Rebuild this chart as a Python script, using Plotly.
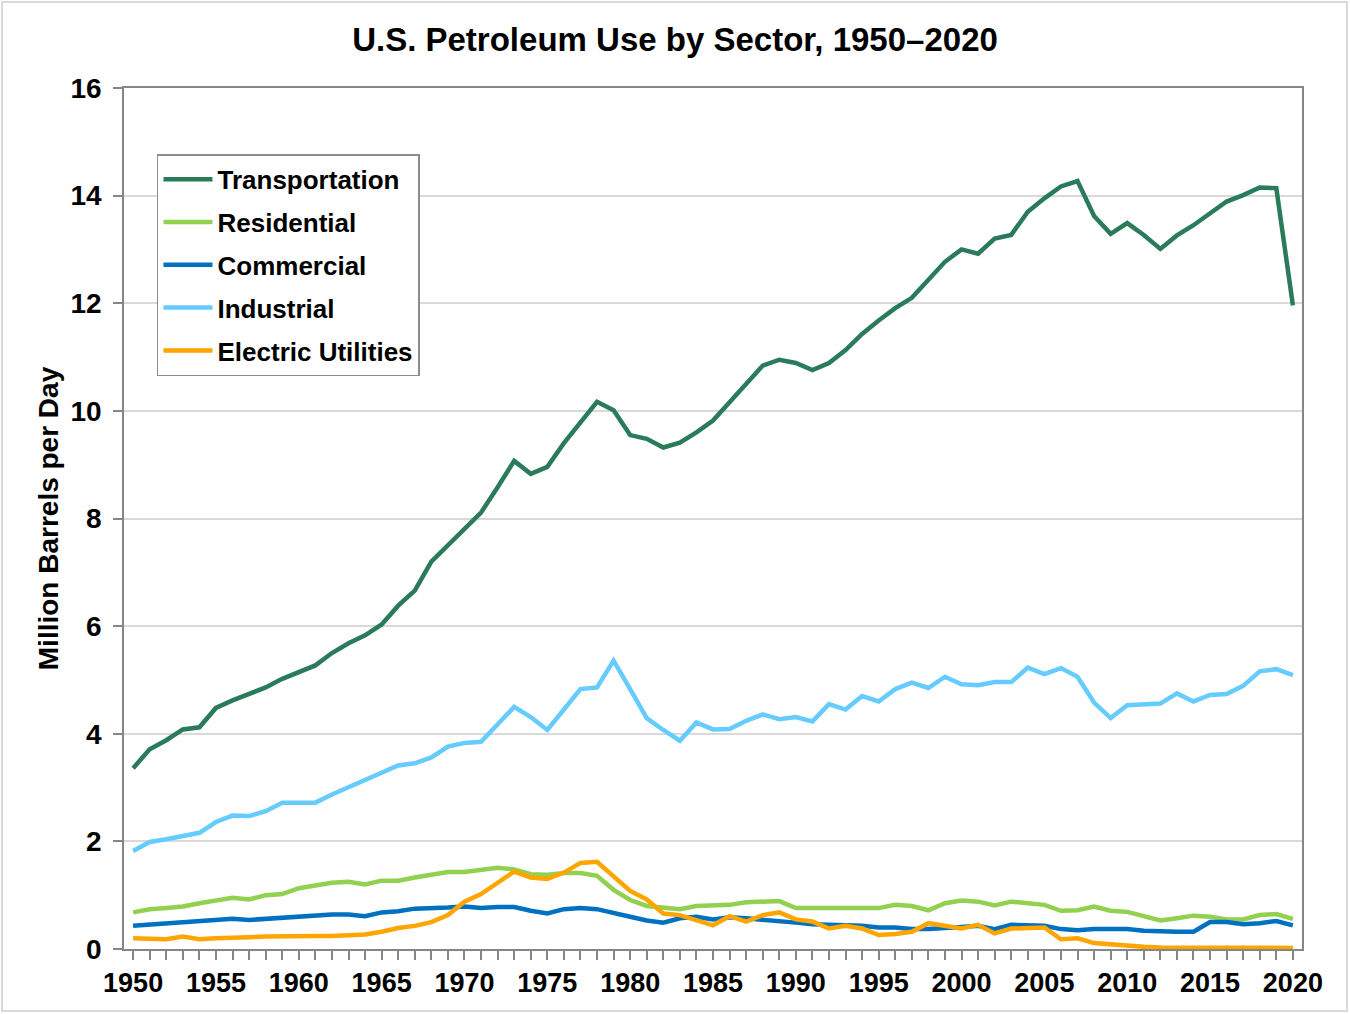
import plotly.graph_objects as go

# Anos (eixo x)
anos = list(range(1950, 2021))

transporte = [3.36, 3.71, 3.88, 4.08, 4.12, 4.48, 4.62, 4.73, 4.86, 5.02,
              5.14, 5.27, 5.50, 5.68, 5.83, 6.03, 6.38, 6.66, 7.20, 7.50,
              7.79, 8.11, 8.58, 9.07, 8.83, 8.96, 9.40, 9.77, 10.17, 10.01,
              9.55, 9.48, 9.32, 9.41, 9.60, 9.82, 10.17, 10.50, 10.84, 10.95,
              10.89, 10.76, 10.89, 11.13, 11.43, 11.68, 11.91, 12.10, 12.44, 12.77,
              13.00, 12.92, 13.20, 13.27, 13.70, 13.95, 14.17, 14.27, 13.62, 13.29,
              13.49, 13.27, 13.01, 13.26, 13.45, 13.66, 13.89, 14.01, 14.15, 14.14,
              11.96]

residencial = [0.68, 0.74, 0.76, 0.79, 0.85, 0.91, 0.95, 0.92, 1.00, 1.02,
               1.13, 1.18, 1.23, 1.25, 1.20, 1.27, 1.27, 1.33, 1.39, 1.43,
               1.43, 1.46, 1.51, 1.48, 1.39, 1.38, 1.41, 1.41, 1.36, 1.10,
               0.91, 0.80, 0.76, 0.74, 0.80, 0.82, 0.82, 0.87, 0.89, 0.89,
               0.76, 0.76, 0.76, 0.78, 0.76, 0.76, 0.82, 0.80, 0.72, 0.85,
               0.90, 0.88, 0.81, 0.88, 0.85, 0.82, 0.71, 0.72, 0.79, 0.71,
               0.69, 0.61, 0.53, 0.57, 0.62, 0.60, 0.55, 0.55, 0.63, 0.65,
               0.56]

comercial = [0.43, 0.45, 0.47, 0.48, 0.50, 0.54, 0.56, 0.54, 0.56, 0.60,
             0.60, 0.62, 0.64, 0.64, 0.61, 0.68, 0.70, 0.75, 0.75, 0.77,
             0.79, 0.76, 0.78, 0.78, 0.71, 0.66, 0.74, 0.76, 0.74, 0.66,
             0.60, 0.53, 0.49, 0.57, 0.60, 0.55, 0.59, 0.57, 0.55, 0.53,
             0.49, 0.46, 0.44, 0.44, 0.43, 0.40, 0.40, 0.37, 0.37, 0.38,
             0.41, 0.43, 0.37, 0.45, 0.44, 0.43, 0.37, 0.35, 0.37, 0.37,
             0.37, 0.34, 0.32, 0.32, 0.32, 0.50, 0.50, 0.46, 0.48, 0.52,
             0.44]

industrial = [1.82, 1.99, 2.04, 2.11, 2.16, 2.36, 2.48, 2.47, 2.56, 2.72,
              2.72, 2.72, 2.87, 3.00, 3.15, 3.28, 3.41, 3.45, 3.56, 3.76,
              3.83, 3.85, 4.19, 4.50, 4.31, 4.07, 4.45, 4.83, 4.86, 5.36,
              4.83, 4.29, 4.07, 3.87, 4.21, 4.08, 4.09, 4.24, 4.36, 4.27,
              4.31, 4.23, 4.55, 4.45, 4.70, 4.60, 4.83, 4.95, 4.85, 5.06,
              4.92, 4.90, 4.96, 4.96, 5.23, 5.11, 5.22, 5.06, 4.58, 4.29,
              4.53, 4.55, 4.56, 4.75, 4.60, 4.72, 4.74, 4.89, 5.16, 5.20,
              5.09]

eletrica = [0.20, 0.18, 0.18, 0.23, 0.18, 0.20, 0.20, 0.22, 0.23, 0.24,
            0.24, 0.24, 0.24, 0.26, 0.27, 0.32, 0.39, 0.43, 0.50, 0.63,
            0.88, 1.02, 1.23, 1.44, 1.33, 1.30, 1.42, 1.60, 1.62, 1.34,
            1.08, 0.92, 0.66, 0.63, 0.54, 0.44, 0.61, 0.51, 0.63, 0.68,
            0.55, 0.51, 0.38, 0.43, 0.38, 0.26, 0.28, 0.32, 0.48, 0.43,
            0.38, 0.45, 0.29, 0.38, 0.40, 0.40, 0.18, 0.20, 0.11, 0.08,
            0.06, 0.04, 0.03, 0.03, 0.03, 0.03, 0.03, 0.03, 0.03, 0.02,
            0.02]

setores = ['Transportation', 'Residential', 'Commercial', 'Industrial', 'Electric Utilities']
cores = ['#2A7B59', '#92D050', '#0070C0', '#66CCFF', '#FFA500']
valores = [transporte, residencial, comercial, industrial, eletrica]

fonte = 'Arial, Liberation Sans, sans-serif'

fig = go.Figure()
for nome, cor, y in zip(setores, cores, valores):
    fig.add_trace(go.Scatter(
        x=anos, y=y, name=nome, mode='lines',
        line=dict(color=cor, width=4.5),
        legendgroup=nome
    ))

fig.update_layout(
    width=1350, height=1014,
    margin=dict(l=124, r=48, t=88, b=65),
    paper_bgcolor='white', plot_bgcolor='white',
    font=dict(family=fonte, color='black'),
    title=dict(text='U.S. Petroleum Use by Sector, 1950–2020',
               x=0.5, xref='container', xanchor='center',
               y=1 - 39 / 1014, yanchor='middle',
               font=dict(size=33, weight='bold', family=fonte)),
    legend=dict(x=0.028, y=0.923, xanchor='left', yanchor='top',
                bgcolor='white', bordercolor='#8C8C8C', borderwidth=1.5,
                font=dict(size=26, weight='bold', family=fonte),
                tracegroupgap=6, itemwidth=49),
    showlegend=True,
)

fig.update_xaxes(
    range=[1949.45, 2020.55],
    tickvals=list(range(1950, 2021, 5)),
    ticks='outside', ticklen=9, tickcolor='#868686', tickwidth=1.5,
    minor=dict(dtick=1, ticks='outside', ticklen=9, tickcolor='#868686', tickwidth=1.5, showgrid=False),
    showgrid=False, zeroline=False,
    showline=True, linecolor='#868686', linewidth=1.5, mirror=True,
    tickfont=dict(size=27, weight='bold', family=fonte),
)
fig.update_yaxes(
    range=[0, 16], dtick=2,
    ticks='outside', ticklen=9, tickcolor='#868686', tickwidth=1.5,
    ticklabelstandoff=6,
    showgrid=True, gridcolor='#D9D9D9', gridwidth=1.5, zeroline=False,
    showline=True, linecolor='#868686', linewidth=1.5, mirror=True,
    tickfont=dict(size=28, weight='bold', family=fonte),
    title=dict(text='Million Barrels per Day', standoff=4,
               font=dict(size=28, weight='bold', family=fonte)),
)

# moldura externa clara
fig.add_shape(type='rect', xref='paper', yref='paper',
              x0=(2 - 124) / 1178, x1=(1347 - 124) / 1178,
              y0=(949 - 1011) / 861, y1=(949 - 2) / 861,
              line=dict(color='#D9D9D9', width=2), layer='below')

fig.write_html("out.html", config={'displayModeBar': False},
               post_script="document.body.style.margin='0';")
